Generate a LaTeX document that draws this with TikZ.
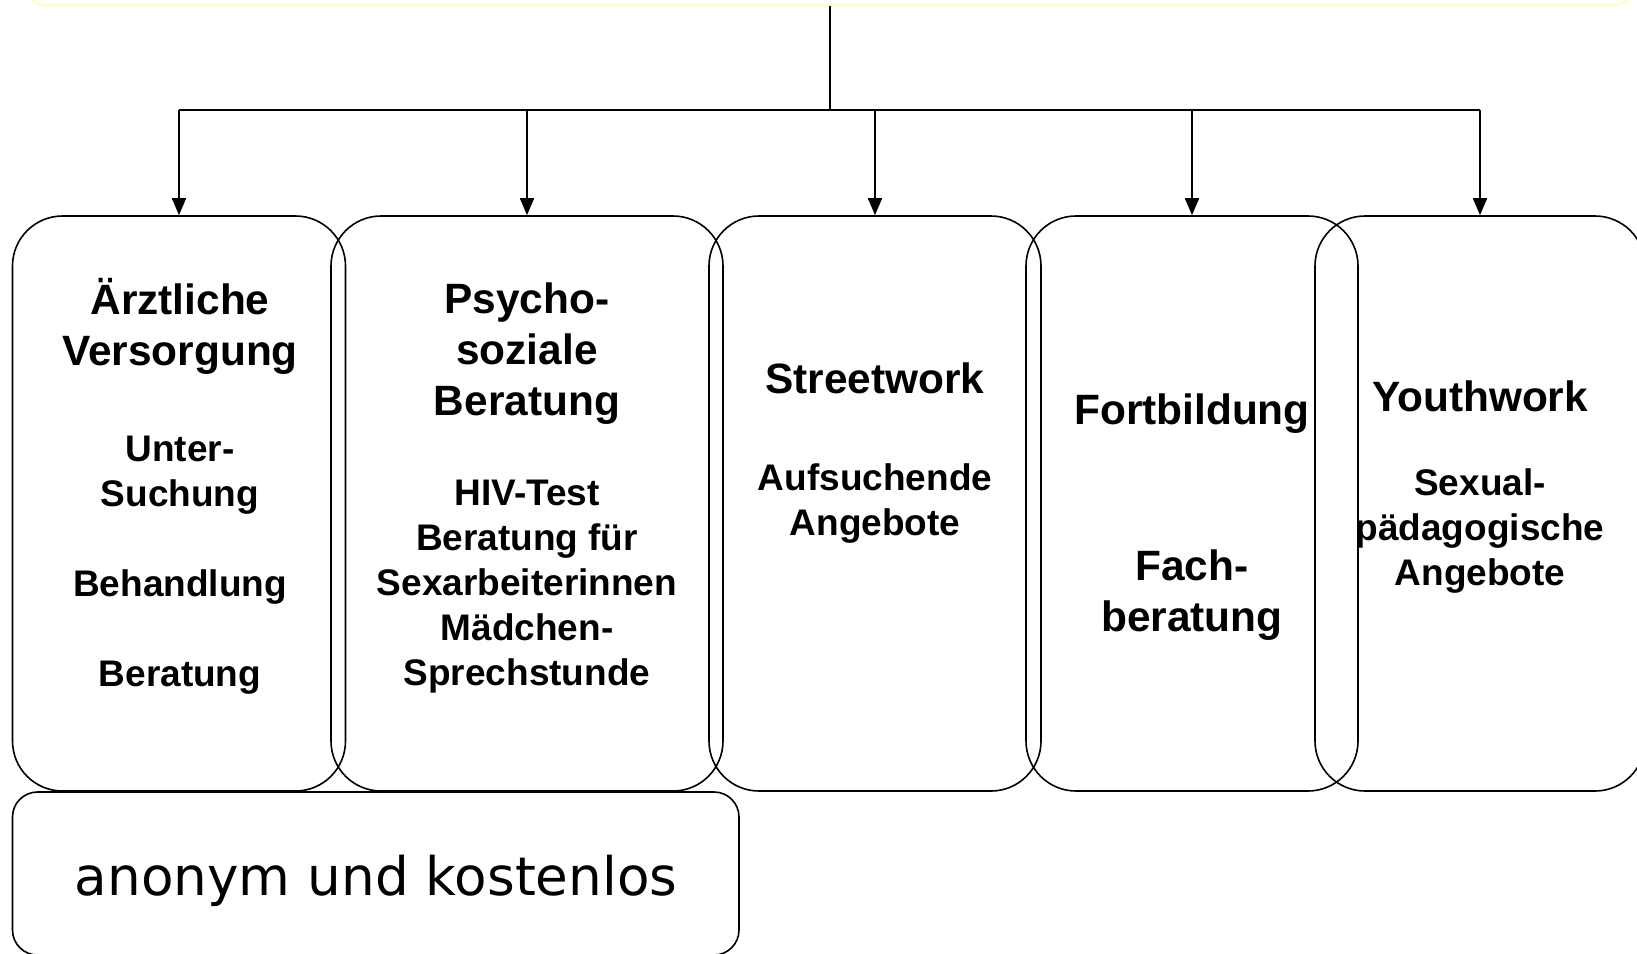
\documentclass[tikz,border=0pt]{standalone}
\usepackage{fontspec}
\setmainfont{Liberation Sans}
\newfontfamily\anonfont{DejaVu Sans}
\usetikzlibrary{arrows.meta}

\tikzset{
	svcbox/.style={draw, line width=0.8pt, rounded corners=25pt, inner sep=0pt, minimum height=287.5pt},
	headtxt/.style={font=\bfseries\fontsize{21.2}{25.5}\selectfont, align=center, anchor=base, inner sep=0pt},
	subtxt/.style={font=\bfseries\fontsize{18.5}{22.4}\selectfont, align=center, anchor=base, inner sep=0pt},
	arr/.style={-{Triangle[width=7pt,length=8.5pt]}, line width=0.8pt}
}

\begin{document}
\begin{tikzpicture}[x=0.5pt, y=-0.5pt]
	\useasboundingbox (0,0) rectangle (1637,953);
	% Top box (cut off)
	\node[draw=yellow!25, line width=1pt, rounded corners=10pt, minimum width=805pt, minimum height=40pt, inner sep=0pt] (top) at (830,-35) {};
	% Boxes
	\node[svcbox, minimum width=166.5pt] (aerzt) at (179,503.5) {};
	\node[svcbox, minimum width=196pt] (psycho) at (527,503.5) {};
	\node[svcbox, minimum width=166pt] (street) at (875,503.5) {};
	\node[svcbox, minimum width=166pt] (fort) at (1192,503.5) {};
	\node[svcbox, minimum width=165pt] (youth) at (1480,503.5) {};
	\node[draw, line width=0.8pt, rounded corners=12.5pt, minimum width=363.25pt, minimum height=81.5pt, inner sep=0pt] (anon) at (375.75,873.5) {};
	% Texts (base = last line)
	\node[headtxt] (aerzt-h) at (180,365) {Ärztliche\\Versorgung};
	\node[subtxt] (aerzt-b) at (180,686) {Unter-\\Suchung\\[22.5pt]Behandlung\\[22.5pt]Beratung};
	\node[headtxt] (psycho-h) at (527,415) {Psycho-\\soziale\\Beratung};
	\node[subtxt] (psycho-b) at (527,685) {HIV-Test\\Beratung für\\Sexarbeiterinnen\\Mädchen-\\Sprechstunde};
	\node[headtxt] (street-h) at (875,393) {Streetwork};
	\node[subtxt] (street-b) at (875,535) {Aufsuchende\\Angebote};
	\node[headtxt] (fort-h) at (1192,424) {Fortbildung};
	\node[headtxt] (fort-b) at (1192,631) {Fach-\\beratung};
	\node[headtxt] (youth-h) at (1480,411) {Youthwork};
	\node[subtxt] (youth-b) at (1480,585) {Sexual-\\pädagogische\\Angebote};
	\node[font=\anonfont\fontsize{26.6}{32}\selectfont, anchor=base, inner sep=0pt] (anon-t) at (376,895) {anonym und kostenlos};
	% Lines
	\coordinate (bar) at (829,110);
	\draw[line width=0.8pt] (top.south) -- (top.south |- bar);
	\draw[line width=0.8pt] (aerzt.north |- bar) -- (youth.north |- bar);
	\foreach \b in {aerzt,psycho,street,fort,youth}
		\draw[arr] (\b.north |- bar) -- (\b.north);
\end{tikzpicture}
\end{document}
